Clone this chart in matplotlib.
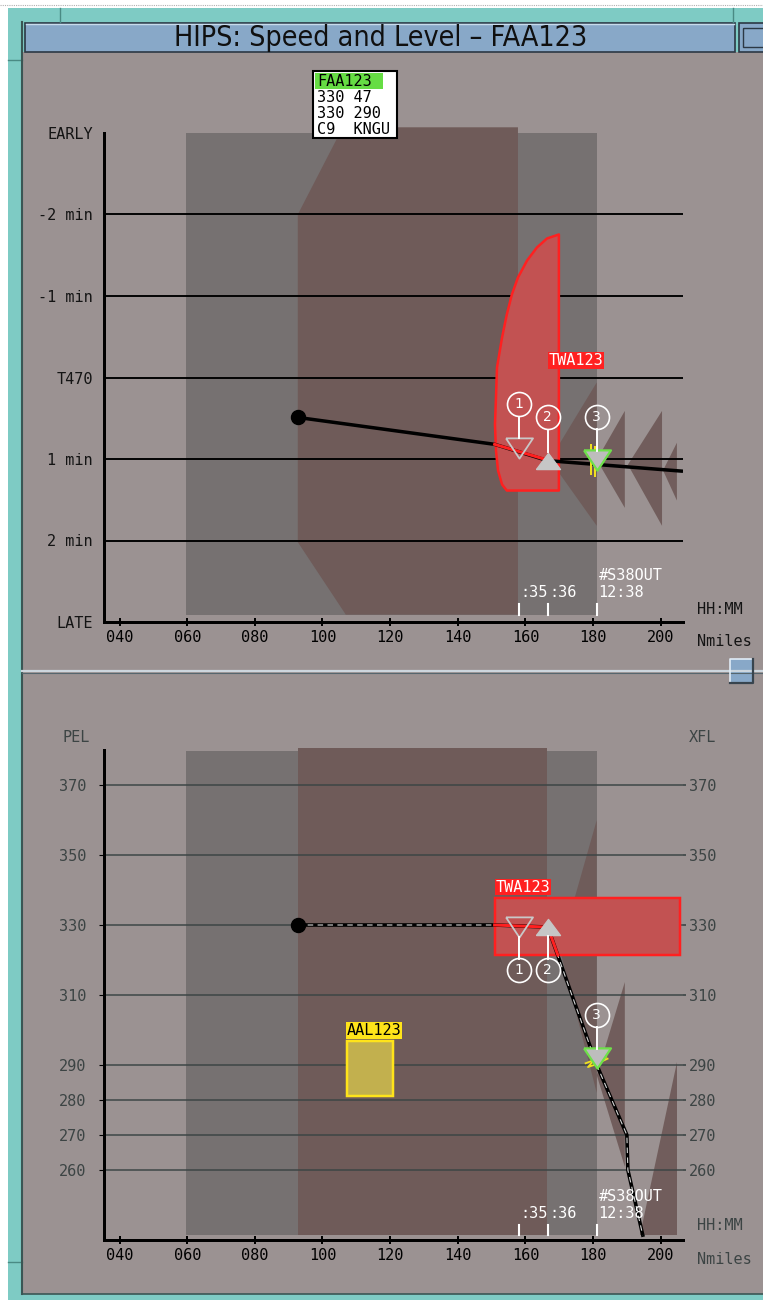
import matplotlib
matplotlib.use('Agg')
import matplotlib.pyplot as plt
from matplotlib.patches import Rectangle, Polygon

# ---------------- data ----------------
x_ticks = [40, 60, 80, 100, 120, 140, 160, 180, 200]
x_ticklabels = ['040', '060', '080', '100', '120', '140', '160', '180', '200']
x_range = (35.4, 206.6)

# speed panel (minutes early/late)
spd_ticks = [-3, -2, -1, 0, 1, 2, 3]
spd_ticklabels = ['EARLY', '-2 min', '-1 min', 'T470', '1 min', '2 min', 'LATE']
spd_grid = [-2, -1, 0, 1, 2]
spd_range = (3.0, -3.1)

spd_gray_x = [59.5, 181.1]
spd_gray_y = [-3.0, 2.91]
spd_brown_x = [92.7, 106.0, 157.8, 157.8, 106.9, 92.7]
spd_brown_y = [-2.0, -3.07, -3.07, 2.91, 2.91, 2.02]
spd_cones_x = [[181.1, 167.2, 181.1], [189.4, 181.1, 189.4],
               [200.4, 190.3, 200.4], [204.8, 200.7, 204.8]]
spd_cones_y = [[0.06, 1.01, 1.82], [0.41, 1.01, 1.60],
               [0.41, 1.07, 1.82], [0.80, 1.14, 1.51]]
twa_spd_x = [169.9, 166.4, 163.4, 160.5, 157.8, 156.0, 154.5, 153.1, 151.6, 151.3,
             151.0, 151.3, 151.9, 153.1, 154.5, 169.9]
twa_spd_y = [-1.755, -1.706, -1.595, -1.436, -1.227, -1.018, -0.773, -0.491, -0.123,
             0.245, 0.577, 0.896, 1.141, 1.313, 1.387, 1.387]
twa_spd_label = (166.9, -0.21)
traj_spd_x = [92.7, 150.9, 166.6, 206.6]
traj_spd_y = [0.49, 0.82, 1.02, 1.15]
conf_spd_x = [150.9, 165.5]
conf_spd_y = [0.82, 1.0]

# level panel (flight level)
lvl_ticks = [370, 350, 330, 310, 290, 280, 270, 260]
lvl_ticklabels = ['370', '350', '330', '310', '290', '280', '270', '260']
lvl_range = (240, 381.5)
lvl_gray_x = [59.5, 181.1]
lvl_gray_y = [241.4, 379.7]
lvl_brown_x = [92.7, 166.3]
lvl_brown_y = [241.4, 380.6]
lvl_cones_x = [[181.1, 170.2, 181.1], [189.4, 181.1, 189.4], [204.8, 204.8, 193.8]]
lvl_cones_y = [[360.0, 322.9, 282.0], [313.7, 287.1, 260.9], [290.9, 241.4, 241.4]]
twa_lvl_x = [150.9, 205.6]
twa_lvl_y = [321.4, 337.7]
aal_lvl_x = [107.2, 120.8]
aal_lvl_y = [281.1, 296.9]
traj_lvl_x = [92.7, 150.9, 166.6, 181.1, 190.0, 190.3, 194.7]
traj_lvl_y = [330, 330, 329.4, 290.0, 270, 260, 241.4]
conf_lvl_x = [150.9, 166.6, 169.6]
conf_lvl_y = [330, 329.4, 321.4]

# waypoints (1) (2) (3)
wp_x = [158.0, 166.6, 181.1]
wp_num = ['1', '2', '3']
wp_spd_y = [0.86, 1.02, 1.01]
wp_spd_circ_y = [0.33, 0.49, 0.48]
wp_spd_stem = [(0.48, 0.74), (0.64, 0.92), (0.63, 0.90)]
wp_lvl_y = [329.4, 329.4, 292.0]
wp_lvl_circ_y = [317.1, 317.1, 304.3]
wp_lvl_stem = [(326.6, 320.3), (326.9, 320.3), (300.9, 294.6)]
time_labels = [':35', ':36', '12:38']
spd_time = dict(tick=(2.785, 2.908), label=2.64, name=2.43)
lvl_time = dict(tick=(244.3, 241.4), label=247.7, name=252.3)

info_lines = ['FAA123', '330 47', '330 290', 'C9  KNGU']

# ---------------- style ----------------
W, H = 763, 1300
PANEL = '#9b9292'
GRAY = '#767171'
BROWN = '#6f5b59'
RED_FILL = '#c25252'
RED_EDGE = '#ff2020'
TEAL = '#7ecbc4'
BLUE = '#88a8c8'
GRID_LOW = '#3c4545'
TXT_LOW = '#3c4444'
MONO = 'DejaVu Sans Mono'
FS = 11
TRI_DOWN = [(-1, 0.75), (1, 0.75), (0, -0.75), (-1, 0.75)]
TRI_UP = [(-1, -0.67), (1, -0.67), (0, 0.67), (-1, -0.67)]
PT = 0.72  # points per pixel

fig = plt.figure(figsize=(W / 100, H / 100), dpi=100)
fig.patch.set_facecolor('white')


def px_axes(z):
    a = fig.add_axes([0, 0, 1, 1], zorder=z)
    a.set_xlim(0, W)
    a.set_ylim(H, 0)
    a.axis('off')
    a.patch.set_alpha(0)
    return a


# ---------- window frame / background ----------
bg = px_axes(0)
bg.add_patch(Rectangle((8, 8), W - 8, H - 8, fc=TEAL, ec='none'))
bg.plot([0, W], [5, 5], color='#b0b0b0', lw=0.8, ls=(0, (1, 1)))
bg.plot([60, 60], [8, 22], color='#4a8a84', lw=1)
bg.plot([733, 733], [8, 22], color='#4a8a84', lw=1)
bg.plot([8, 22], [60, 60], color='#4a8a84', lw=1)
bg.plot([8, 22], [1262, 1262], color='#4a8a84', lw=1)
bg.add_patch(Rectangle((22, 52), W - 22, 1294 - 52, fc=PANEL, ec='none'))
bg.plot([22, 22], [22, 1294], color='#3a5654', lw=1.5)
bg.plot([22, W], [1294, 1294], color='#3a5654', lw=1.2)
# title bar
bg.add_patch(Rectangle((25, 23), 710, 29, fc=BLUE, ec='#2c3844', lw=1.2))
bg.plot([26, 734], [24, 24], color='#c8dcec', lw=1)
bg.add_patch(Rectangle((739, 23), 30, 29, fc=BLUE, ec='#2c3844', lw=1.2))
bg.add_patch(Rectangle((743, 28), 30, 19, fc='none', ec='#2c3844', lw=1))
bg.text(381, 38.5, 'HIPS: Speed and Level \u2013 FAA123', ha='center', va='center',
        fontsize=20.5, family='DejaVu Sans', fontstretch='condensed', color='#101010')
# panel separator + button
bg.plot([22, W], [671, 671], color='#cdd6de', lw=1.6)
bg.plot([22, W], [673, 673], color='#56666e', lw=0.8)
bg.add_patch(Rectangle((730, 659), 23, 24, fc=BLUE, ec='none'))
bg.plot([730, 730, 753], [683, 659, 659], color='#e0ecf6', lw=1.2)
bg.plot([730, 753, 753], [683, 683, 659], color='#38444e', lw=1.6)


def data_axes(top_px, bottom_px, ylim):
    left, right = 104, 683
    ax = fig.add_axes([left / W, 1 - bottom_px / H, (right - left) / W,
                       (bottom_px - top_px) / H], zorder=1)
    ax.patch.set_alpha(0)
    ax.set_xlim(*x_range)
    ax.set_ylim(*ylim)
    ax.spines['top'].set_visible(False)
    ax.spines['right'].set_visible(False)
    for s in ('left', 'bottom'):
        ax.spines[s].set_linewidth(3 * PT)
        ax.spines[s].set_color('black')
    ax.set_xticks(x_ticks)
    ax.set_xticklabels(x_ticklabels, family=MONO, fontsize=FS)
    ax.tick_params(axis='x', direction='inout', length=8 * PT, width=2 * PT,
                   pad=3, colors='black')
    return ax


def waypoints(ax, ys, circ_ys, stems):
    ax.plot(wp_x[0], ys[0], marker=TRI_DOWN, ms=27 * PT, mfc='none', mec='#c8c8c8',
            mew=1.3, zorder=6, ls='none')
    ax.plot(wp_x[1], ys[1], marker=TRI_UP, ms=24 * PT, mfc='#c6c6c6', mec='#c6c6c6',
            mew=1, zorder=6, ls='none')
    ax.plot(wp_x[2], ys[2], marker=TRI_DOWN, ms=27 * PT, mfc='#bdbdbd', mec='#6ee04a',
            mew=1.6, zorder=6, ls='none')
    for x, cy, (s0, s1), n in zip(wp_x, circ_ys, stems, wp_num):
        ax.plot([x, x], [s0, s1], color='white', lw=1.4, zorder=6)
        ax.plot(x, cy, 'o', ms=24 * PT, mfc='none', mec='white', mew=1.2, zorder=6)
        ax.text(x, cy, n, ha='center', va='center', color='white', fontsize=10,
                family='DejaVu Sans', zorder=7)


def time_marks(ax, spec):
    for x, lab in zip(wp_x, time_labels):
        ax.plot([x, x], spec['tick'], color='white', lw=1.5, zorder=6)
        ax.text(x + 0.5, spec['label'], lab, family=MONO, fontsize=FS, color='white',
                ha='left', va='center', zorder=6)
    ax.text(wp_x[2] + 0.5, spec['name'], '#S38OUT', family=MONO, fontsize=FS,
            color='white', ha='left', va='center', zorder=6)


# ---------- speed panel ----------
ax1 = data_axes(622 - 6.1 * 81.5, 622, spd_range)
ax1.spines['left'].set_bounds(spd_ticks[-1], spd_ticks[0])
ax1.set_yticks(spd_ticks)
ax1.set_yticklabels(spd_ticklabels, family=MONO, fontsize=FS, color='#141414')
ax1.tick_params(axis='y', length=0, pad=8)
ax1.add_patch(Rectangle((spd_gray_x[0], spd_gray_y[0]), spd_gray_x[1] - spd_gray_x[0],
                        spd_gray_y[1] - spd_gray_y[0], fc=GRAY, ec='none', zorder=1))
ax1.add_patch(Polygon(list(zip(spd_brown_x, spd_brown_y)), fc=BROWN, ec='none', zorder=1.1))
for cx, cy in zip(spd_cones_x, spd_cones_y):
    ax1.add_patch(Polygon(list(zip(cx, cy)), fc=BROWN, ec='none', zorder=1.2, alpha=0.95))
for g in spd_grid:
    ax1.axhline(g, color='black', lw=1.9 * PT, zorder=2)
ax1.add_patch(Polygon(list(zip(twa_spd_x, twa_spd_y)), fc=RED_FILL, ec=RED_EDGE,
                      lw=2.5 * PT, zorder=3, joinstyle='round'))
ax1.text(*twa_spd_label, 'TWA123', family=MONO, fontsize=FS, color='white', ha='left',
         va='center', zorder=6, bbox=dict(boxstyle='square,pad=0.05', fc='#ff2020', ec='none'))
ax1.plot(traj_spd_x, traj_spd_y, color='black', lw=3.5 * PT, zorder=4, solid_capstyle='butt')
ax1.plot(conf_spd_x, conf_spd_y, color=RED_EDGE, lw=3 * PT, zorder=4.1)
ax1.plot(traj_spd_x[0], traj_spd_y[0], 'o', color='black', ms=14 * PT, zorder=5)
ax1.plot([wp_x[2] - 1.8, wp_x[2] - 1.8], [wp_spd_y[2] - 0.18, wp_spd_y[2] + 0.18],
         color='#f0e020', lw=2 * PT, zorder=4.5)
ax1.plot([wp_x[2] - 0.6, wp_x[2] - 0.6], [wp_spd_y[2] - 0.16, wp_spd_y[2] + 0.2],
         color='#f0e020', lw=2 * PT, zorder=4.5)
waypoints(ax1, wp_spd_y, wp_spd_circ_y, wp_spd_stem)
time_marks(ax1, spd_time)

# ---------- level panel ----------
ax2 = data_axes(1240 - 141.5 * 3.5, 1240, lvl_range)
ax2.spines['left'].set_bounds(lvl_range[0], 380)
ax2.set_yticks(lvl_ticks)
ax2.set_yticklabels(lvl_ticklabels, family=MONO, fontsize=FS, color=TXT_LOW)
ax2.tick_params(axis='y', left=False, pad=9.5)

ax2r = ax2.twinx()
ax2r.set_ylim(*lvl_range)
ax2r.set_yticks(lvl_ticks)
ax2r.set_yticklabels(lvl_ticklabels, family=MONO, fontsize=FS, color=TXT_LOW)
ax2r.tick_params(axis='y', length=3 * PT, width=1.2, color=TXT_LOW, pad=2)
for s in ax2r.spines.values():
    s.set_visible(False)
ax2r.patch.set_alpha(0)

ax2.add_patch(Rectangle((lvl_gray_x[0], lvl_gray_y[0]), lvl_gray_x[1] - lvl_gray_x[0],
                        lvl_gray_y[1] - lvl_gray_y[0], fc=GRAY, ec='none', zorder=1))
ax2.add_patch(Rectangle((lvl_brown_x[0], lvl_brown_y[0]), lvl_brown_x[1] - lvl_brown_x[0],
                        lvl_brown_y[1] - lvl_brown_y[0], fc=BROWN, ec='none', zorder=1.1))
for cx, cy in zip(lvl_cones_x, lvl_cones_y):
    ax2.add_patch(Polygon(list(zip(cx, cy)), fc=BROWN, ec='none', zorder=1.2, alpha=0.95))
for g in lvl_ticks:
    ax2.axhline(g, color=GRID_LOW, lw=1.5 * PT, zorder=2)
ax2.add_patch(Rectangle((twa_lvl_x[0], twa_lvl_y[0]), twa_lvl_x[1] - twa_lvl_x[0],
                        twa_lvl_y[1] - twa_lvl_y[0], fc=RED_FILL, ec=RED_EDGE,
                        lw=2.5 * PT, zorder=3))
ax2.text(twa_lvl_x[0] + 0.3, twa_lvl_y[1] + 1.0, 'TWA123', family=MONO, fontsize=FS,
         color='white', ha='left', va='bottom', zorder=6,
         bbox=dict(boxstyle='square,pad=0.05', fc='#ff2020', ec='none'))
ax2.add_patch(Rectangle((aal_lvl_x[0], aal_lvl_y[0]), aal_lvl_x[1] - aal_lvl_x[0],
                        aal_lvl_y[1] - aal_lvl_y[0], fc='#c2b04e', ec='#ffe41a',
                        lw=2.5 * PT, zorder=3))
ax2.text(aal_lvl_x[0], aal_lvl_y[1] + 0.8, 'AAL123', family=MONO, fontsize=FS,
         color='black', ha='left', va='bottom', zorder=6,
         bbox=dict(boxstyle='square,pad=0.05', fc='#ffe41a', ec='none'))
ax2.plot(traj_lvl_x, traj_lvl_y, color='black', lw=3.6 * PT, zorder=4)
ax2.plot(traj_lvl_x, traj_lvl_y, color='#d8d8d8', lw=1.1 * PT, ls=(0, (5, 4)), zorder=4.05)
ax2.plot(conf_lvl_x, conf_lvl_y, color=RED_EDGE, lw=3 * PT, zorder=4.1)
ax2.plot(traj_lvl_x[0], traj_lvl_y[0], 'o', color='black', ms=14 * PT, zorder=5)
ax2.plot([wp_x[2] - 3.3, wp_x[2] - 0.8, wp_x[2] - 2.6, wp_x[2] - 0.2],
         [wp_lvl_y[2] - 1.5, wp_lvl_y[2] - 0.6, wp_lvl_y[2] - 2.6, wp_lvl_y[2] - 1.8],
         color='#f0e020', lw=1.8 * PT, zorder=4.5)
ax2.plot([wp_x[2] + 0.8, wp_x[2] + 2.8, wp_x[2] + 1.4, wp_x[2] + 3.2],
         [wp_lvl_y[2] - 0.6, wp_lvl_y[2] + 0.4, wp_lvl_y[2] - 1.0, wp_lvl_y[2] - 0.2],
         color='#f0e020', lw=1.8 * PT, zorder=4.5)
waypoints(ax2, wp_lvl_y, wp_lvl_circ_y, wp_lvl_stem)
time_marks(ax2, lvl_time)

# ---------- overlay: axis captions & info box ----------
ov = px_axes(5)
for y, c in ((609, '#141414'), (1225, TXT_LOW)):
    ov.text(697, y, 'HH:MM', family=MONO, fontsize=FS, color=c, va='center')
for y, c in ((641, '#141414'), (1259, TXT_LOW)):
    ov.text(697, y, 'Nmiles', family=MONO, fontsize=FS, color=c, va='center')
ov.text(63, 737, 'PEL', family=MONO, fontsize=FS, color=TXT_LOW, va='center')
ov.text(689, 737, 'XFL', family=MONO, fontsize=FS, color=TXT_LOW, va='center')
ov.add_patch(Rectangle((313, 71), 84, 67, fc='white', ec='black', lw=1.5))
ov.add_patch(Rectangle((315, 73), 68, 16, fc='#66dd44', ec='none'))
for i, line in enumerate(info_lines):
    ov.text(317, 81 + 16 * i, line, family=MONO, fontsize=FS, color='black', va='center')

fig.savefig('out.png', dpi=100, facecolor=fig.get_facecolor())
